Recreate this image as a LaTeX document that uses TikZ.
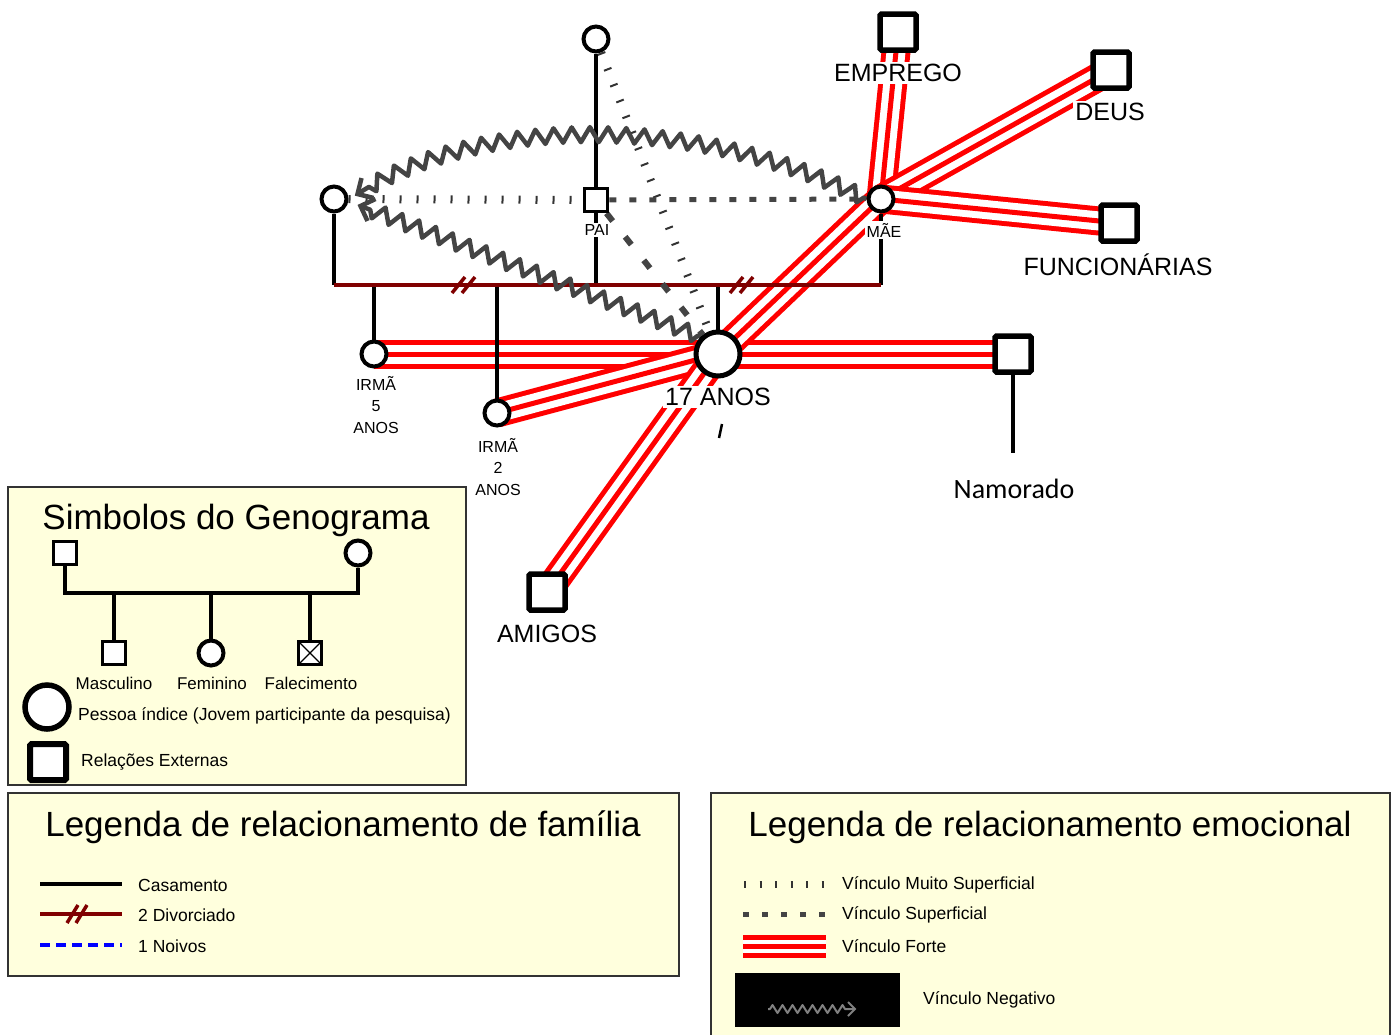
\documentclass[tikz,border=0pt]{standalone}
\usepackage{fontspec}
\setmainfont{Liberation Sans}
\newfontfamily\namfont{Carlito}
\usetikzlibrary{decorations.pathmorphing,calc}
\pgfdeclarelayer{links}
\pgfsetlayers{links,main}
\definecolor{dkred}{HTML}{800000}
\definecolor{zz}{HTML}{444444}
\definecolor{legbg}{HTML}{FFFFDD}
\definecolor{frame}{HTML}{333333}
\definecolor{tick}{HTML}{333333}
\newcommand{\fsz}[1]{\fontsize{#1}{#1}\selectfont}
\begin{document}
\begin{tikzpicture}[x=1pt,y=-1pt,
  fem/.style={circle,draw,fill=white,line width=4,minimum size=25,inner sep=0pt},
  masc/.style={rectangle,draw,fill=white,line width=3.5,minimum size=23,inner sep=0pt},
  ext/.style={rectangle,draw,fill=white,line width=5.5,minimum size=36,inner sep=0pt,rounded corners=1.5},
  pidx/.style={circle,draw,fill=white,line width=5,minimum size=44,inner sep=0pt},
  tag/.style={fill=white,inner sep=1.5pt,font=\fsz{16}},
  stack/.style={align=center,inner sep=0pt,font=\fontsize{16}{21.5}\selectfont},
  bigtag/.style={fill=white,inner sep=2pt,font=\fsz{25}},
  title/.style={font=\fsz{35}},
  item/.style={anchor=west,inner sep=0pt,font=\fsz{17.5}},
  fam/.style={draw=black,line width=3.5},
  divorce/.style={draw=dkred,line width=4},
  triple/.style={draw=white,line width=#1-10,preaction={draw=red,line width=#1},postaction={draw=red,line width=5}},
  triple/.default=29,
  muitosup/.style={draw=tick,line width=8,dash pattern=on 2pt off 15pt},
  sup/.style={draw=zz,line width=5,dash pattern=on 7pt off 13pt},
  neg/.style={draw=zz,line width=4.5,line join=round,decorate,
    decoration={zigzag,segment length=18pt,amplitude=7.5pt,pre length=3pt,post length=8pt}},
  negtip/.style={draw=zz,line width=4.5,line join=miter,line cap=butt}
]
\useasboundingbox (0,0) rectangle (1399,1034);

% ---------- people ----------
\node[fem] (gm) at (596,39) {};
\node[fem] (lw) at (334,199) {};
\node[masc] (pai) at (596,200) {};
\node[fem] (mae) at (881,199) {};
\node[fem] (irma5) at (374,354) {};
\node[fem] (irma2) at (497,413) {};
\node[pidx] (idx) at (718,354) {};
\node[ext] (emprego) at (898,32) {};
\node[ext] (deus) at (1111,70) {};
\node[ext] (func) at (1119,223) {};
\node[ext] (namorado) at (1013,354) {};
\node[ext] (amigos) at (547,592) {};

% ---------- labels ----------
\node[tag] (paiL) at (597,230) {PAI};
\node[tag] (maeL) at (884,230) {MÃE};
\node[stack] (irma5L) at (376,405) {IRMÃ\\5\\ANOS};
\node[stack] (irma2L) at (498,467) {IRMÃ\\2\\ANOS};
\node[bigtag] (idxL) at (718,397) {17 ANOS};
\node[bigtag] (empregoL) at (898,73) {EMPREGO};
\node[bigtag] (deusL) at (1110,112) {DEUS};
\node[bigtag] (funcL) at (1118,265) {FUNCIONÁRIAS};
\node[bigtag] (amigosL) at (547,634) {AMIGOS};
\node[font=\namfont\fsz{28}] (namL) at (1014,489) {Namorado};

\coordinate (barL) at (334,285);
\coordinate (namEnd) at (1013,453);
\coordinate (tipA) at ($(lw.east)+(9,-5)$);
\coordinate (tipB) at ($(lw.east)+(12,7)$);

\begin{pgfonlayer}{links}
  % strong bonds
  \draw[triple] (irma5.center) -- (idx.center);
  \draw[triple] (idx.center) -- (namorado.center);
  \draw[triple] (irma2.center) -- (idx.center);
  \draw[triple] (idx.center) -- (amigos.center);
  \draw[triple] (idx.center) -- (mae.center);
  \draw[triple] (mae.center) -- (emprego.center);
  \draw[triple] (mae.center) -- (deus.center);
  \draw[triple] (mae.center) -- (func.center);
  % family lines
  \draw[fam] (gm) -- (pai);
  \draw[fam] (pai) -- (pai |- barL);
  \draw[fam] (lw) -- (lw |- barL);
  \draw[fam] (mae) -- (mae |- barL);
  \draw[fam] (irma5) -- (irma5 |- barL);
  \draw[fam] (irma2) -- (irma2 |- barL);
  \draw[fam] (idx) -- (idx |- barL);
  \draw[divorce] (lw |- barL) -- (mae |- barL);
  \foreach \x in {463,741}{
    \draw[divorce,line width=3.5] (\x-11,293) -- (\x+2,277) (\x-1,293) -- (\x+12,277);
  }
  \draw[fam,line width=4.5] (namorado) -- (namEnd);
  % emotional bonds
  \draw[muitosup] (lw) -- (pai);
  \draw[muitosup] (gm) -- (idx);
  \draw[sup] (pai) -- (mae);
  \draw[sup,line width=6,dash pattern=on 10pt off 20pt] (pai) -- (idx);
  \draw[neg] (mae.west) .. controls (700,114) and (480,114) .. (tipA);
  \draw[negtip] ($(tipA)+(4,-16)$) -- (tipA) -- ($(tipA)+(16,4)$);
  \draw[neg] (idx.north west) -- (tipB);
  \draw[negtip] ($(tipB)+(7,15)$) -- (tipB) -- ($(tipB)+(15,-7)$);
  % loose stroke under the index label
  \draw[line width=2.5] (722,424) -- (719,438);
\end{pgfonlayer}

% ---------- legend frames ----------
\begin{pgfonlayer}{links}
  \draw[draw=frame,line width=1.5,fill=legbg] (8,487) rectangle (466,785);
  \draw[draw=frame,line width=1.5,fill=legbg] (8,793) rectangle (679,976);
  \draw[draw=frame,line width=1.5,fill=legbg] (711,793) rectangle (1390,1040);
\end{pgfonlayer}

% ---------- symbols legend ----------
\node[title] (t1) at (236,520) {Simbolos do Genograma};
\node[masc] (lm) at (65,553) {};
\node[fem] (lf) at (358,553) {};
\coordinate (lbar) at (0,593);
\node[masc] (lc1) at (114,653) {};
\node[fem] (lc2) at (211,653) {};
\node[masc,path picture={\draw[line width=1.3]
   (path picture bounding box.north west) -- (path picture bounding box.south east)
   (path picture bounding box.south west) -- (path picture bounding box.north east);}] (lc3) at (310,653) {};
\draw[fam] (lm) -- (lm |- lbar) -- (lf |- lbar) -- (lf);
\foreach \c in {lc1,lc2,lc3} \draw[fam] (\c) -- (\c |- lbar);
\node[font=\fsz{17}] (lt1) at (114,683) {Masculino};
\node[font=\fsz{17}] (lt2) at (212,683) {Feminino};
\node[font=\fsz{17}] (lt3) at (311,683) {Falecimento};
\node[pidx,line width=5.5] (lidx) at (47,707) {};
\node[item] (lt4) at (78,716) {Pessoa índice (Jovem participante da pesquisa)};
\node[ext,line width=6] (lext) at (48,762) {};
\node[item] (lt5) at (81,762) {Relações Externas};

% ---------- family legend ----------
\node[title] (t2) at (343,827) {Legenda de relacionamento de família};
\draw[fam,line width=4] (40,884) -- (122,884);
\node[item] (k1) at (138,885) {Casamento};
\draw[divorce] (40,914) -- (122,914);
\draw[divorce,line width=3.5] (67,923) -- (78,905) (76,923) -- (87,905);
\node[item] (k2) at (138,915) {2 Divorciado};
\draw[draw=blue,line width=4,dash pattern=on 10pt off 6pt] (40,945) -- (122,945);
\node[item] (k3) at (138,946) {1 Noivos};

% ---------- emotional legend ----------
\node[title] (t3) at (1050,827) {Legenda de relacionamento emocional};
\draw[muitosup,line width=7,dash pattern=on 2pt off 13.5pt] (744,884) -- (825,884);
\node[item] (e1) at (842,885) {Vínculo Muito Superficial};
\draw[sup,dash pattern=on 6pt off 13pt] (743,914) -- (830,914);
\node[item] (e2) at (842,915) {Vínculo Superficial};
\draw[triple=23] (743,946) -- (826,946);
\node[item] (e3) at (842,946) {Vínculo Forte};
\fill[black] (735,973) rectangle (900,1027);
\coordinate (tipC) at (855,1009);
\draw[neg,draw=gray,line width=2,decoration={zigzag,segment length=10pt,amplitude=4pt,pre length=2pt,post length=6pt}] (768,1009) -- (tipC);
\draw[negtip,draw=gray,line width=2] ($(tipC)+(-7,-7)$) -- (tipC) -- ($(tipC)+(-7,7)$);
\node[item] (e4) at (923,1000) {Vínculo Negativo};
\end{tikzpicture}
\end{document}
